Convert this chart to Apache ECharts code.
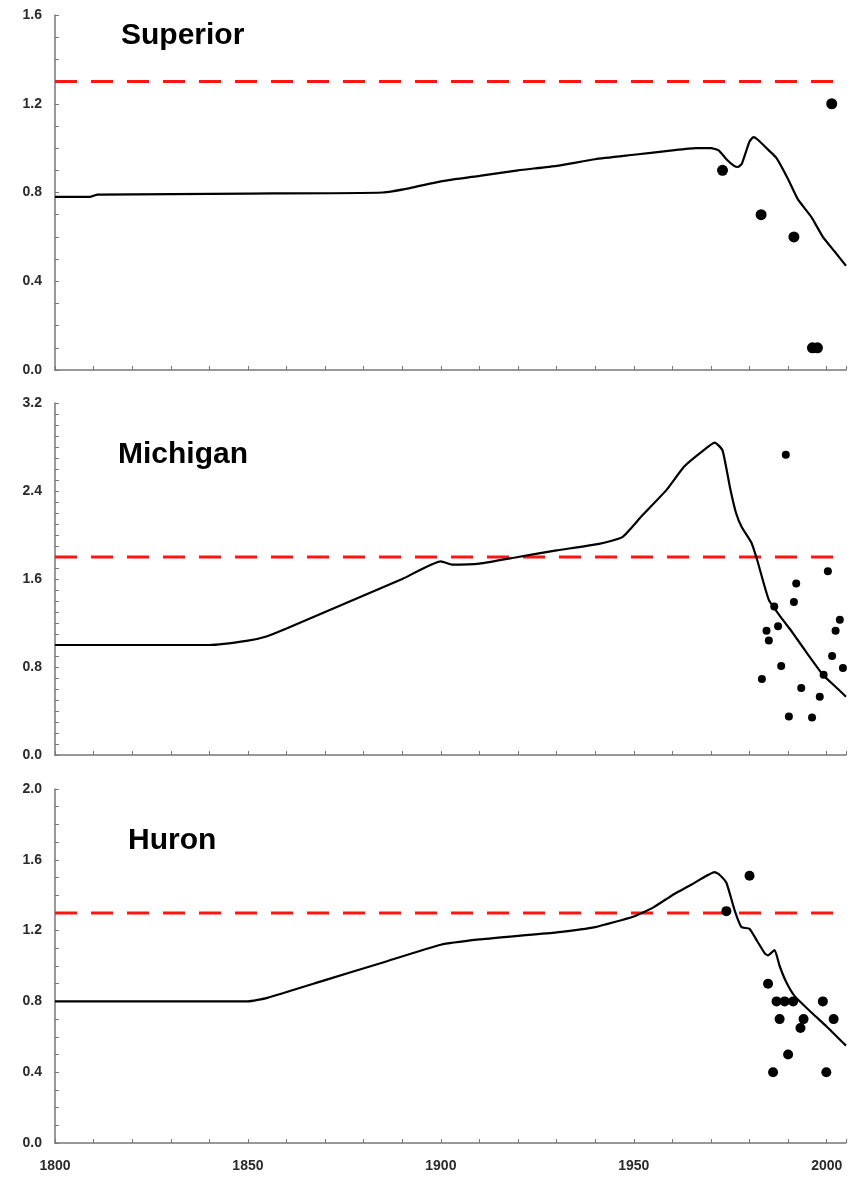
<!DOCTYPE html>
<html>
<head>
<meta charset="utf-8">
<script src="https://cdn.jsdelivr.net/npm/echarts@6/dist/echarts.min.js"></script>
<style>html,body{margin:0;padding:0;background:#fff}#c{width:851px;height:1183px}</style>
</head>
<body>
<div id="c"></div>
<script>
const lakes = ['Superior', 'Michigan', 'Huron'];
const xTickLabels = [1800, 1850, 1900, 1950, 2000];
const thresholds = [1.3, 1.8, 1.3];
const yMax = [1.6, 3.2, 2.0];
const yInterval = [0.4, 0.8, 0.4];

const superiorLine = [[1800,0.78],[1809,0.78],[1811,0.79],[1850,0.795],[1885,0.80],[1892,0.82],[1900,0.85],[1910,0.875],[1920,0.90],[1930,0.92],[1940,0.95],[1950,0.97],[1960,0.99],[1966,1.0],[1970,1.0],[1972,0.99],[1974,0.95],[1976,0.92],[1977,0.915],[1978,0.93],[1979,0.98],[1980,1.03],[1981,1.05],[1982,1.04],[1985,0.99],[1987,0.955],[1990,0.86],[1992.5,0.77],[1996,0.69],[1999,0.60],[2002,0.535],[2005,0.47]];
const superiorObs = [[1973,0.90],[1983,0.70],[1991.5,0.60],[1996.3,0.10],[1997.6,0.10],[2001.3,1.20]];

const michiganLine = [[1800,1.0],[1840,1.0],[1850,1.04],[1855,1.08],[1860,1.15],[1870,1.30],[1880,1.45],[1890,1.60],[1900,1.76],[1903,1.73],[1910,1.74],[1920,1.80],[1930,1.86],[1941,1.92],[1947,1.98],[1952,2.17],[1958.5,2.41],[1963,2.62],[1967,2.74],[1971,2.84],[1973,2.77],[1975,2.42],[1976.5,2.20],[1978,2.07],[1980.5,1.93],[1982,1.77],[1985,1.41],[1988.6,1.23],[1991,1.12],[1994.8,0.93],[1999,0.73],[2002,0.63],[2005,0.53]];
const michiganObs = [[1989.4,2.73],[2000.3,1.67],[1992.1,1.56],[1991.5,1.39],[1986.4,1.35],[2003.4,1.23],[1987.4,1.17],[1984.4,1.13],[2002.3,1.13],[1985,1.04],[2001.4,0.90],[1988.2,0.81],[2004.2,0.79],[1999.2,0.73],[1983.2,0.69],[1993.4,0.61],[1998.2,0.53],[1990.2,0.35],[1996.2,0.34]];

const huronLine = [[1800,0.8],[1850,0.8],[1855,0.82],[1870,0.92],[1885,1.02],[1900,1.12],[1910,1.15],[1920,1.17],[1930,1.19],[1940,1.22],[1950,1.28],[1955,1.33],[1960,1.40],[1965,1.46],[1971,1.53],[1972,1.52],[1974,1.47],[1976.2,1.31],[1977.9,1.22],[1980,1.21],[1982,1.14],[1984,1.07],[1984.8,1.06],[1986.5,1.09],[1987.8,1.0],[1989.5,0.91],[1991.7,0.83],[1996.4,0.73],[1999.9,0.66],[2005,0.55]];
const huronObs = [[1980,1.51],[1974,1.31],[1984.8,0.90],[1987,0.80],[1989.1,0.80],[1991.3,0.80],[1999,0.80],[1987.8,0.70],[1994,0.70],[1993.2,0.65],[2001.8,0.70],[1990,0.50],[1986.1,0.40],[1999.9,0.40]];

const lines = [superiorLine, michiganLine, huronLine];
const obs = [superiorObs, michiganObs, huronObs];
const symSizes = [11, 8, 10];

const gridDefs = [{top:15,height:355},{top:403,height:352},{top:789,height:354}];
const titleY = [38, 457, 843];
const titleX = [121, 118, 128];

const axisCol = '#777';
const labelStyle = {color:'#2a2a2a', fontSize:14, fontWeight:'bold', fontFamily:'Liberation Sans, Arial, sans-serif'};

const grid = gridDefs.map(g => ({left:55, width:791, top:g.top, height:g.height}));
const xAxis = gridDefs.map((g,i) => ({
  type:'value', gridIndex:i, min:1800, max:2005, interval:10,
  axisLine:{show:true, lineStyle:{color:axisCol, width:1.5}},
  axisTick:{show:true, inside:true, length:4, lineStyle:{color:axisCol}},
  splitLine:{show:false},
  axisLabel:{show: i===2, margin:16, ...labelStyle,
    formatter: v => xTickLabels.includes(v) ? String(v) : ''}
}));
const yAxis = gridDefs.map((g,i) => ({
  type:'value', gridIndex:i, min:0, max:yMax[i], interval:yInterval[i],
  axisLine:{show:true, lineStyle:{color:axisCol, width:1.5}},
  axisTick:{show:true, inside:true, length:4, lineStyle:{color:axisCol}},
  minorTick:{show:true, splitNumber: i===1 ? 8 : 4, length:4, lineStyle:{color:axisCol}},
  splitLine:{show:false}, minorSplitLine:{show:false},
  axisLabel:{margin:13, ...labelStyle, formatter: v => v.toFixed(1)}
}));

const series = [];
lakes.forEach((name,i) => {
  series.push({type:'line', xAxisIndex:i, yAxisIndex:i, data:[[1800,thresholds[i]],[2005,thresholds[i]]],
    symbol:'none', lineStyle:{color:'#ff1414', width:3, type:[22,14]}, z:1, silent:true});
  series.push({type:'line', xAxisIndex:i, yAxisIndex:i, data:lines[i], symbol:'none', smooth:0.15,
    lineStyle:{color:'#000', width:2.2}, z:2, silent:true});
  series.push({type:'scatter', xAxisIndex:i, yAxisIndex:i, data:obs[i], symbol:'circle',
    symbolSize:symSizes[i], itemStyle:{color:'#000', opacity:1}, z:3, silent:true});
});

const graphic = lakes.map((name,i) => ({
  type:'text', left:titleX[i], top:titleY[i]-17,
  style:{text:name, fill:'#000', font:'bold 30px "Liberation Sans", Arial, sans-serif'}
}));

const chart = echarts.init(document.getElementById('c'), null, {renderer:'canvas'});
chart.setOption({animation:false, backgroundColor:'#fff', grid, xAxis, yAxis, series, graphic});
</script>
</body>
</html>
